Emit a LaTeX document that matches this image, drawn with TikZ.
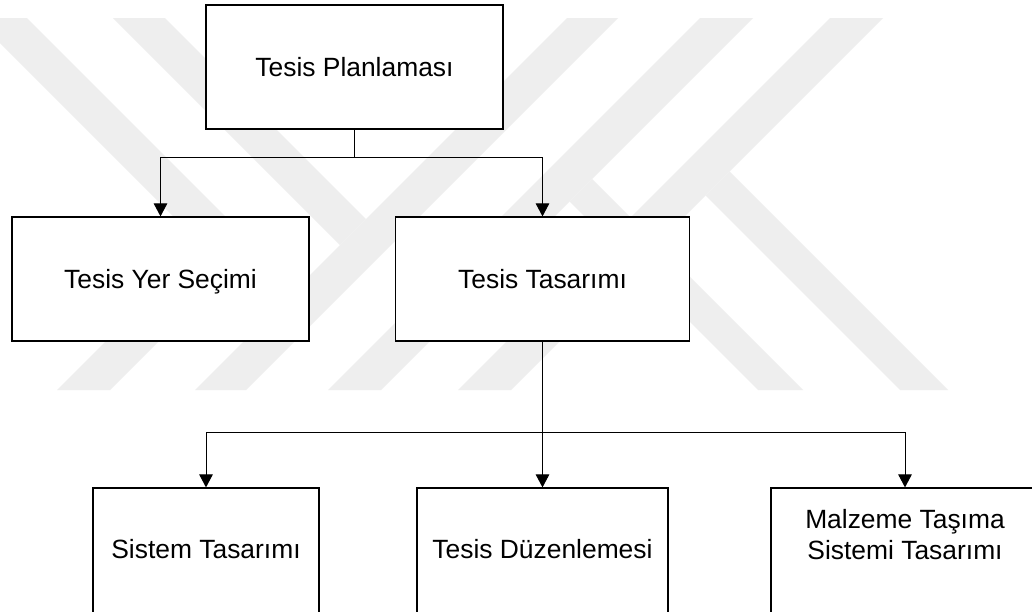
\documentclass[tikz,border=0pt]{standalone}
\usepackage{fontspec}
\setmainfont{Liberation Sans}
\usetikzlibrary{arrows.meta}
\definecolor{wm}{RGB}{238,238,238}
\begin{document}
\begin{tikzpicture}[x=1pt,y=-1pt,
  box/.style={draw=black, line width=1.2pt, fill=white, rectangle, inner sep=0pt,
    align=center, text height=19pt, text depth=0pt, font=\fontsize{26.4}{31}\selectfont},
  link/.style={draw=black, line width=1pt},
  trunk/.style={draw=black, line width=1.8pt},
  arr/.style={link, -{Triangle[width=13.5pt,length=13pt]}},
  wmark/.style={fill=wm, draw=none}]
\clip (0,0) rectangle (1032,611);
\fill[white] (0,0) rectangle (1032,611);
% watermark
\path[wmark] (-25,18) -- (27,18) -- (254.5,245.5) -- (110,390) -- (57,390) -- (202,245) -- cycle;
\path[wmark] (113,18) -- (165,18) -- (366,219) -- (340,245) -- cycle;
\path[wmark] (567,18) -- (618,18) -- (246,390) -- (195,390) -- cycle;
\path[wmark] (700,18) -- (753,18) -- (381,390) -- (328,390) -- cycle;
\path[wmark] (830,18) -- (883,18) -- (511,390) -- (458,390) -- cycle;
\path[wmark] (569.5,201.5) -- (592,179) -- (803,390) -- (758,390) -- cycle;
\path[wmark] (705.5,195.5) -- (729.5,171.5) -- (948,390) -- (900,390) -- cycle;
% boxes
\node[box, minimum width=297pt, minimum height=124pt] (top) at (354.5,67) {Tesis Planlaması};
\node[box, minimum width=297pt, minimum height=124pt] (yer) at (160.5,279) {Tesis Yer Seçimi};
\node[box, minimum width=294pt, minimum height=124pt] (tas) at (542.5,279) {Tesis Tasarımı};
\node[box, minimum width=226pt, minimum height=127pt, text depth=6pt] (sis) at (206,551.5) {Sistem Tasarımı};
\node[box, minimum width=251pt, minimum height=127pt, text depth=6pt] (duz) at (542.5,551.5) {Tesis Düzenlemesi};
\node[box, minimum width=268pt, minimum height=127pt, text depth=4pt] (mal) at (905,551.5) {Malzeme Taşıma\\Sistemi Tasarımı};
% connectors
\coordinate (j1) at (354.5,157);
\coordinate (j2) at (542.5,432);
\draw[link] (top.south) -- (j1);
\draw[arr] (j1) -| (yer.north);
\draw[arr] (j1) -| (tas.north);
\draw[trunk] (tas.south) -- (j2);
\draw[arr] (j2) -| (sis.north);
\draw[arr] (j2) -- (duz.north);
\draw[arr] (j2) -| (mal.north);
\end{tikzpicture}
\end{document}
